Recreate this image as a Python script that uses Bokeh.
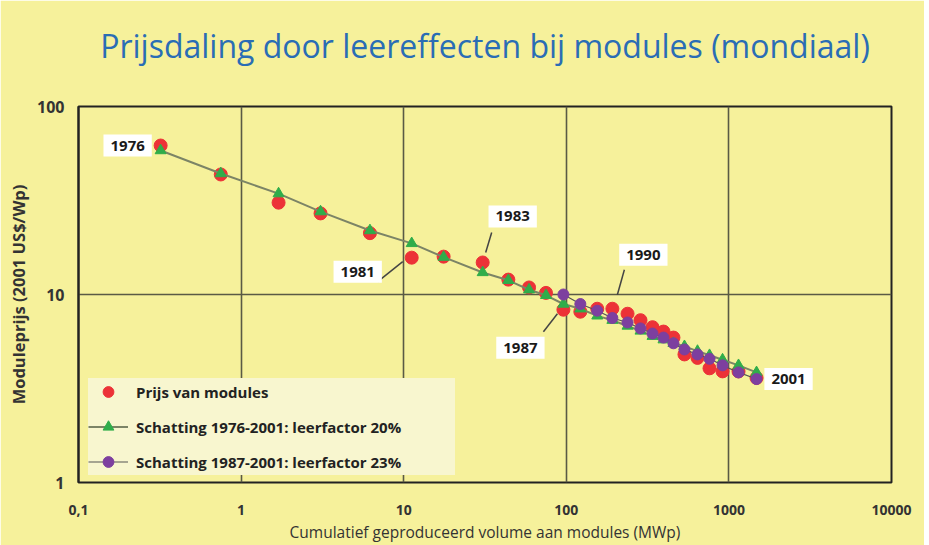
import math
from bokeh.plotting import figure
from bokeh.models import (Range1d, FixedTicker, CustomJSTickFormatter, Legend,
                          LegendItem, Label, ColumnDataSource, Title)
from bokeh.embed import file_html
from bokeh.resources import INLINE

# ---------------- data ----------------
years = list(range(1976, 2002))
cum_volume_mwp = [0.32, 0.75, 1.7, 3.08, 6.2, 11.2, 17.6, 30.6, 44, 59, 75, 96,
                  122, 155, 192, 238, 286, 339, 396, 456, 533, 641, 760, 914,
                  1146, 1479]
module_price = [62, 43.5, 30.8, 27, 21.2, 15.7, 15.9, 14.8, 12.0, 10.9, 10.2,
                8.3, 8.1, 8.4, 8.4, 7.9, 7.3, 6.7, 6.35, 5.9, 4.8, 4.6, 4.05,
                3.9, 3.9, 3.6]
fit_1976_2001 = [58.3, 44, 34.4, 27.6, 21.9, 18.7, 15.8, 13.1, 11.9, 10.6, 9.9,
                 8.9, 8.4, 7.7, 7.3, 6.8, 6.4, 6.0, 5.75, 5.5, 5.3, 5.0, 4.75,
                 4.5, 4.2, 3.85]
fit_start_1987 = 11  # index of 1987
fit_1987_2001 = [10.0, 8.9, 8.2, 7.5, 7.1, 6.6, 6.2, 5.9, 5.5, 5.1, 4.8, 4.55,
                 4.2, 3.85, 3.55]

x_ticks = [0.1, 1, 10, 100, 1000, 10000]
y_ticks = [1, 10, 100]

title_text = "Prijsdaling door leereffecten bij modules (mondiaal)"
x_label = "Cumulatief geproduceerd volume aan modules (MWp)"
y_label = "Moduleprijs (2001 US$/Wp)"
legend_labels = ["Prijs van modules",
                 "Schatting 1976-2001: leerfactor 20%",
                 "Schatting 1987-2001: leerfactor 23%"]

# annotated years: (year, label offset dx, dy [px, dy downwards], leader line (dx0, dy0, dx1, dy1) or None)
annotations = [
    (1976, -33, 0, None),
    (1981, -54, 14, (-34, 24, -9, 4)),
    (1983, 30, -46, (3, -10, 9, -30)),
    (1987, -43, 38, (-20, 22, -6, 4)),
    (1990, 31, -54, (5, -14, 12, -39)),
    (2001, 32, 1, None),
]

# ---------------- styling ----------------
BG = "#f6f19b"
RED = "#ec3237"
GREEN = "#30ad4a"
PURPLE = "#7d3f9f"
FONT = "Open Sans"

W, H = 924, 545
ML, MR, MT, MB = 78, 33, 106, 63
FW, FH = W - ML - MR, H - MT - MB

p = figure(width=W, height=H, x_axis_type="log", y_axis_type="log",
           x_range=Range1d(x_ticks[0], x_ticks[-1]),
           y_range=Range1d(y_ticks[0], y_ticks[-1]),
           output_backend="svg", toolbar_location=None, title=None,
           min_border_left=ML, min_border_right=MR,
           min_border_top=MT, min_border_bottom=MB)

p.background_fill_color = BG
p.border_fill_color = BG
p.outline_line_color = "#222222"
p.outline_line_width = 2

# empty spacer title next to the frame, then the real title further out
p.add_layout(Title(text=" ", text_font_size="12px", standoff=4), "above")
p.add_layout(Title(text=title_text, text_font=FONT, text_font_size="32px",
                   text_font_style="normal", text_color="#2a6db5",
                   align="center", standoff=40), "above")

# axes
for ax in (p.xaxis[0], p.yaxis[0]):
    ax.major_tick_line_color = None
    ax.minor_tick_line_color = None
    ax.major_label_text_font = FONT
    ax.major_label_text_font_style = "bold"
    ax.major_label_text_color = "#333333"
    ax.axis_label_text_color = "#333333"
    ax.axis_label_text_font = FONT

p.xaxis.major_label_text_font_size = "14px"
p.yaxis.major_label_text_font_size = "16px"
p.xaxis.ticker = FixedTicker(ticks=x_ticks)
p.yaxis.ticker = FixedTicker(ticks=y_ticks)
fmt = "return String(tick).replace('.', ',');"
p.xaxis.formatter = CustomJSTickFormatter(code=fmt)
p.yaxis.formatter = CustomJSTickFormatter(code=fmt)
p.xaxis.axis_line_color = None
p.yaxis.axis_line_color = "#222222"
p.yaxis.axis_line_width = 2
p.xaxis.major_label_standoff = 16
p.yaxis.major_label_standoff = 8

p.xaxis.axis_label = x_label
p.xaxis.axis_label_text_font_size = "15.5px"
p.xaxis.axis_label_text_font_style = "normal"
p.xaxis.axis_label_standoff = 3
p.yaxis.axis_label = y_label
p.yaxis.axis_label_text_font_size = "16.5px"
p.yaxis.axis_label_text_font_style = "bold"
p.yaxis.axis_label_standoff = 4

p.xgrid.ticker = FixedTicker(ticks=x_ticks[1:-1])
p.ygrid.ticker = FixedTicker(ticks=y_ticks[1:-1])
for g in (p.xgrid[0], p.ygrid[0]):
    g.grid_line_color = "#5a5a45"
    g.grid_line_width = 1.6

# ---------------- glyphs ----------------
src_all = ColumnDataSource(dict(x=cum_volume_mwp, price=module_price,
                                fit=fit_1976_2001))
src_87 = ColumnDataSource(dict(x=cum_volume_mwp[fit_start_1987:],
                               fit=fit_1987_2001))

r_red = p.scatter("x", "price", source=src_all, marker="circle", size=13,
                  fill_color=RED, line_color=RED)
r_gline = p.line("x", "fit", source=src_all, line_color="#7c8466",
                 line_width=2)
r_gtri = p.scatter("x", "fit", source=src_all, marker="triangle", size=11,
                   fill_color=GREEN, line_color=GREEN)
r_pline = p.line("x", "fit", source=src_87, line_color="#555555",
                 line_width=1.2)
r_pcirc = p.scatter("x", "fit", source=src_87, marker="circle", size=11,
                    fill_color=PURPLE, line_color=PURPLE)

legend = Legend(items=[
    LegendItem(label=legend_labels[0], renderers=[r_red]),
    LegendItem(label=legend_labels[1], renderers=[r_gline, r_gtri]),
    LegendItem(label=legend_labels[2], renderers=[r_pline, r_pcirc]),
], location=(10, 7))
legend.background_fill_color = "#f8f6cf"
legend.background_fill_alpha = 1
legend.border_line_color = None
legend.label_text_font = FONT
legend.label_text_font_style = "bold"
legend.label_text_font_size = "15px"
legend.label_text_color = "#222222"
legend.label_width = 319
legend.label_height = 27
legend.glyph_height = 27
legend.glyph_width = 40
legend.label_standoff = 8
legend.spacing = 8
legend.padding = 0
legend.margin = 0
p.add_layout(legend)

# ---------------- year annotations ----------------
dec_x = FW / math.log10(x_ticks[-1] / x_ticks[0])
dec_y = FH / math.log10(y_ticks[-1] / y_ticks[0])


def shifted(xv, yv, dx, dy_down):
    return xv * 10 ** (dx / dec_x), yv * 10 ** (-dy_down / dec_y)


lx0, ly0, lx1, ly1 = [], [], [], []
for yr, dx, dy, leader in annotations:
    i = years.index(yr)
    xv, yv = cum_volume_mwp[i], module_price[i]
    p.add_layout(Label(x=xv, y=yv, x_offset=dx, y_offset=-dy, text=str(yr),
                       text_align="center", text_baseline="middle",
                       text_font=FONT, text_font_style="bold",
                       text_font_size="15px", text_color="#1a1a1a",
                       background_fill_color="white", padding=(7, 6)))
    if leader:
        a = shifted(xv, yv, leader[0], leader[1])
        b = shifted(xv, yv, leader[2], leader[3])
        lx0.append(a[0]); ly0.append(a[1]); lx1.append(b[0]); ly1.append(b[1])

p.segment(lx0, ly0, lx1, ly1, line_color="#444444", line_width=1.5)

open("out.html", "w").write(file_html(p, INLINE))
